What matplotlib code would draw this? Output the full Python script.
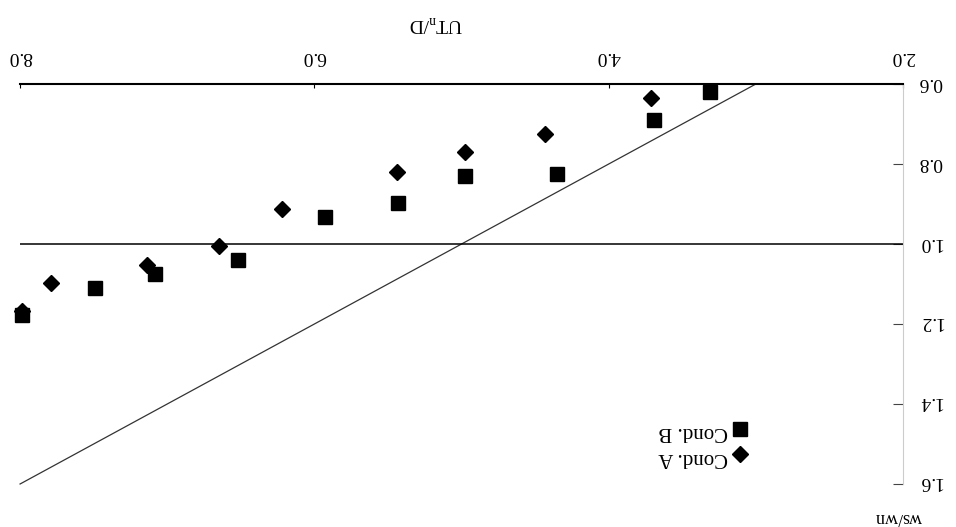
import numpy as np
import matplotlib.pyplot as plt

plt.rcParams['font.family'] = ['Liberation Serif', 'DejaVu Serif']

# Data read from the (upside-down) reference chart
cond_a_x = [3.71, 4.43, 4.98, 5.44, 6.22, 6.65, 7.14, 7.79, 7.99]
cond_a_y = [0.635, 0.726, 0.771, 0.820, 0.913, 1.006, 1.052, 1.098, 1.167]
cond_b_x = [3.31, 3.69, 4.35, 4.98, 5.43, 5.93, 6.52, 7.08, 7.49, 7.99]
cond_b_y = [0.619, 0.690, 0.826, 0.829, 0.897, 0.933, 1.039, 1.075, 1.109, 1.177]
ref_x = [3.0, 8.0]
ref_y = [0.6, 1.6]
x_ticks = [2.0, 4.0, 6.0, 8.0]
y_ticks = [0.6, 0.8, 1.0, 1.2, 1.4, 1.6]

fig = plt.figure(figsize=(9.56, 5.27), dpi=100)
ax = fig.add_axes([0.021, 0.0816, 0.9236, 0.759])

# the whole chart is shown rotated by 180 degrees
ax.set_xlim(8.0, 2.0)
ax.set_ylim(1.6, 0.6)

ax.plot(ref_x, ref_y, color='#333333', linewidth=0.9, clip_on=False)
ax.axhline(1.0, color='black', linewidth=1.1)
ax.plot(cond_b_x, cond_b_y, linestyle='none', marker='s', markersize=10.5,
        color='black', label='Cond. B', clip_on=False)
ax.plot(cond_a_x, cond_a_y, linestyle='none', marker='D', markersize=8.5,
        color='black', label='Cond. A', clip_on=False)

# axes styling
for side in ['left', 'bottom']:
    ax.spines[side].set_visible(False)
ax.spines['top'].set_linewidth(1.5)
ax.spines['right'].set_color('#cccccc')
ax.spines['right'].set_linewidth(0.8)

ax.xaxis.tick_top()
ax.yaxis.tick_right()
ax.set_xticks(x_ticks)
ax.set_xticklabels([f'{v:.1f}' for v in x_ticks], rotation=180, fontsize=14,
                   ha='center', va='top', rotation_mode='anchor')
ax.set_yticks(y_ticks)
ax.set_yticklabels([f'{v:.1f}' for v in y_ticks], rotation=180, fontsize=14,
                   ha='right', va='center_baseline', rotation_mode='anchor')
ax.tick_params(axis='x', direction='in', length=3, pad=14)
ax.tick_params(axis='y', direction='in', length=7, pad=11, color='#444444')

ax.set_xlabel('UT$_\\mathregular{n}$/D', rotation=180, fontsize=14,
              va='center', ha='center')
ax.xaxis.set_label_position('top')
ax.xaxis.set_label_coords(0.471, 1.14)
ax.text(0.995, -0.085, 'ws/wn', transform=ax.transAxes, rotation=180,
        ha='center', va='center', fontsize=13)

leg = ax.legend(loc='center', bbox_to_anchor=(0.775, 0.10), frameon=False,
                markerfirst=False, fontsize=15, handletextpad=0.1,
                labelspacing=0.3, handlelength=1.0)
for t in leg.get_texts():
    t.set_rotation(180)

fig.savefig('out.png', dpi=100)
